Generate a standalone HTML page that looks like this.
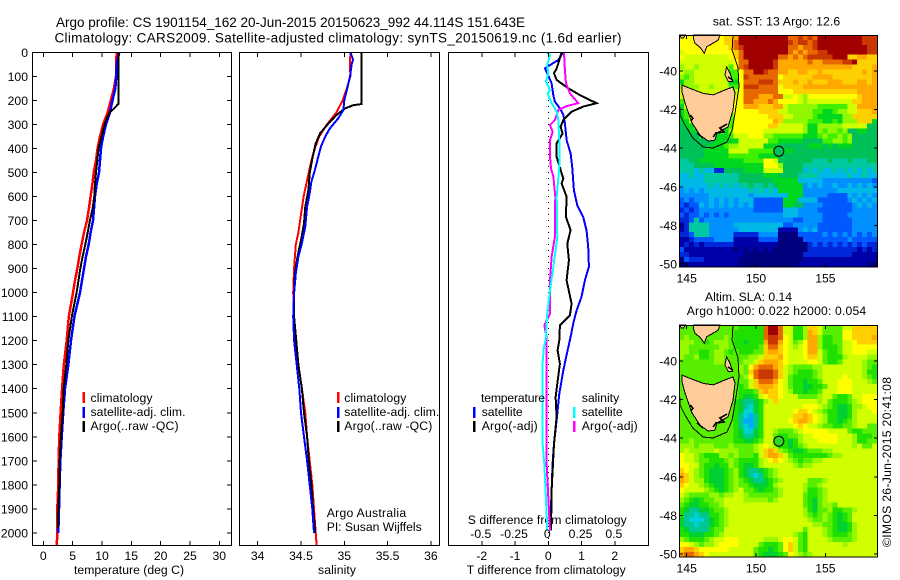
<!DOCTYPE html>
<html lang="en">
<head>
<meta charset="utf-8">
<title>Argo profile chart</title>
<style>
html,body{margin:0;padding:0;background:#fff}
svg{display:block}
text{font-family:"Liberation Sans",sans-serif;font-size:12.2px;fill:#000}
.title{font-size:13.5px}
</style>
</head>
<body>
<svg id="chart" width="900" height="580" viewBox="0 0 900 580" xmlns="http://www.w3.org/2000/svg">
<rect x="0" y="0" width="900" height="580" fill="#fff"/>
<text class="title" x="56" y="27" textLength="469" lengthAdjust="spacing">Argo profile: CS 1901154_162 20-Jun-2015 20150623_992 44.114S 151.643E</text>
<text class="title" x="54.5" y="42.5" textLength="567" lengthAdjust="spacing">Climatology: CARS2009. Satellite-adjusted climatology: synTS_20150619.nc (1.6d earlier)</text>
<text x="74" y="574" textLength="110" lengthAdjust="spacing">temperature (deg C)</text>
<text x="318" y="574" textLength="38" lengthAdjust="spacing">salinity</text>
<text x="466.7" y="574" textLength="159" lengthAdjust="spacing">T difference from climatology</text>
<text x="467.7" y="524" textLength="159" lengthAdjust="spacing">S difference from climatology</text>
<text x="90.5" y="402" textLength="62" lengthAdjust="spacing">climatology</text>
<text x="90.5" y="416" textLength="95" lengthAdjust="spacing">satellite-adj. clim.</text>
<text x="90.5" y="430" textLength="88" lengthAdjust="spacing">Argo(..raw -QC)</text>
<rect x="82.5" y="392" width="2.5" height="11" fill="#f00"/>
<rect x="82.5" y="407" width="2.5" height="11" fill="#00f"/>
<rect x="82.5" y="421" width="2.5" height="11" fill="#000"/>
<text x="344.3" y="402" textLength="62" lengthAdjust="spacing">climatology</text>
<text x="344.3" y="416" textLength="95" lengthAdjust="spacing">satellite-adj. clim.</text>
<text x="344.3" y="430" textLength="88" lengthAdjust="spacing">Argo(..raw -QC)</text>
<rect x="337" y="392" width="2.5" height="11" fill="#f00"/>
<rect x="337" y="407" width="2.5" height="11" fill="#00f"/>
<rect x="337" y="421" width="2.5" height="11" fill="#000"/>
<text x="326.7" y="517" textLength="79.5" lengthAdjust="spacing">Argo Australia</text>
<text x="326.7" y="531" textLength="95" lengthAdjust="spacing">PI: Susan Wijffels</text>
<g id="panelLines"></g>
<g id="panelAxes"></g>
<text x="481" y="402" textLength="64" lengthAdjust="spacing">temperature</text>
<text x="481.7" y="416" textLength="41" lengthAdjust="spacing">satellite</text>
<text x="481.7" y="430" textLength="56" lengthAdjust="spacing">Argo(-adj)</text>
<rect x="473" y="407" width="2.5" height="11" fill="#00f"/>
<rect x="473" y="421" width="2.5" height="11" fill="#000"/>
<text x="581.7" y="402" textLength="37.5" lengthAdjust="spacing">salinity</text>
<text x="581.7" y="416" textLength="41" lengthAdjust="spacing">satellite</text>
<text x="581.7" y="430" textLength="56" lengthAdjust="spacing">Argo(-adj)</text>
<rect x="573" y="407" width="2.5" height="11" fill="#0ff"/>
<rect x="573" y="421" width="2.5" height="11" fill="#f0f"/>
<g id="maps"></g>
<text x="712.7" y="25.5" textLength="127.5" lengthAdjust="spacing">sat. SST: 13 Argo: 12.6</text>
<text x="705" y="301" textLength="87" lengthAdjust="spacing">Altim. SLA: 0.14</text>
<text x="686.7" y="315" textLength="179.5" lengthAdjust="spacing">Argo h1000: 0.022 h2000: 0.054</text>
<text transform="translate(891 547) rotate(-90)" textLength="170" lengthAdjust="spacing">©IMOS 26-Jun-2015 20:41:08</text>
</svg>
<script>
// ---- Axis tick labels ----
const depthTicks = [0,100,200,300,400,500,600,700,800,900,1000,1100,1200,1300,1400,1500,1600,1700,1800,1900,2000];
const tempTicks = [0,5,10,15,20,25,30];
const salTicks = [34,34.5,35,35.5,36];
const tDiffTicks = [-2,-1,0,1,2];
const sDiffTicks = [-0.5,-0.25,0,0.25,0.5];
const lonTicks = [145,150,155];
const latTicks = [-40,-42,-44,-46,-48,-50];

// ---- Temperature profiles ----
const tempClimDepth = [0,50,100,150,200,250,300,350,400,450,500,550,600,650,700,750,800,850,900,950,1000,1100,1200,1300,1400,1500,1600,1700,1800,1900,2000,2050];
const tempClim = [12.5,12.44,12.39,12.05,11.5,10.97,10.2,9.66,9.26,8.98,8.6,8.35,8.07,7.78,7.44,6.93,6.53,6.14,5.8,5.4,5.06,4.35,3.98,3.5,3.2,2.95,2.73,2.6,2.55,2.39,2.39,2.3];
const tempSatDepth = [0,50,100,150,200,250,300,350,400,450,500,550,600,650,700,750,800,850,900,950,1000,1100,1200,1300,1400,1500,1600,1700,1800,1900,2000];
const tempSat = [12.95,12.5,12.44,12.27,11.8,11.36,10.68,10.2,9.83,9.66,9.49,9.09,8.8,8.64,8.47,8.07,7.73,7.27,6.93,6.6,6.25,5.3,4.72,4.26,3.7,3.4,3.13,2.9,2.78,2.67,2.55];
const tempArgoDepth = [0,215,220,230,250,270,300,350,400,450,500,550,600,650,700,750,800,850,900,950,1000,1100,1200,1300,1400,1500,1600,1700,1800,1900,1980];
const tempArgo = [12.78,12.78,12.6,12.2,11.36,10.9,10.45,9.94,9.43,9.2,8.98,8.8,8.7,8.4,7.95,7.56,7.16,6.7,6.3,6.0,5.68,4.85,4.26,3.92,3.47,3.3,3.0,2.8,2.72,2.55,2.5];

// ---- Salinity profiles ----
const salClimDepth = [0,50,100,150,200,250,300,350,400,450,500,550,600,650,700,750,800,850,900,1000,1100,1200,1300,1400,1500,1600,1700,1800,1900,2000,2050];
const salClim = [35.07,35.066,35.07,35.03,34.98,34.91,34.8,34.71,34.66,34.62,34.59,34.56,34.53,34.51,34.49,34.47,34.44,34.43,34.42,34.41,34.42,34.44,34.47,34.51,34.55,34.57,34.6,34.63,34.65,34.67,34.68];
const salSatDepth = [0,30,50,100,150,200,240,275,316,351,393,434,490,538,587,642,725,795,850,920,1003,1100,1200,1300,1400,1500,1600,1700,1800,1900,2000];
const salSat = [35.07,35.1,35.085,35.066,35.035,35.0,34.99,34.93,34.835,34.78,34.73,34.7,34.66,34.62,34.6,34.57,34.55,34.51,34.47,34.44,34.42,34.41,34.42,34.45,34.48,34.5,34.535,34.57,34.6,34.63,34.65];
const salArgoDepth = [0,215,220,233,261,295,337,379,434,503,573,642,712,782,850,920,1003,1100,1300,1400,1500,1600,1700,1800,1900,2000];
const salArgo = [35.2,35.2,35.105,35.01,34.91,34.82,34.72,34.67,34.635,34.6,34.585,34.55,34.535,34.5,34.46,34.43,34.42,34.42,34.47,34.51,34.535,34.57,34.59,34.62,34.64,34.665];

// ---- Difference profiles ----
const dTSatDepth = [0,32,49,67,88,129,178,206,233,261,296,365,421,476,574,636,685,740,810,893,949,1018,1074,1129,1185,1240,1324,1421,1532,1629,1712,1824,1935,1990];
const dTSat = [0.45,0.3,0.1,-0.1,-0.03,0.1,0.15,0.2,0.35,0.45,0.5,0.55,0.67,0.72,0.77,0.87,1.05,1.15,1.2,1.22,1.1,1.0,0.85,0.75,0.67,0.58,0.45,0.33,0.25,0.17,0.13,0.1,0.07,0.05];
const dTArgoDepth = [0,46,67,88,115,150,178,212,226,247,282,310,338,379,435,490,525,546,601,685,740,796,865,949,1046,1094,1136,1199,1240,1296,1379,1435,1518,1629,1824,1990];
const dTArgo = [0.4,0.3,0.25,0.17,0.25,0.6,0.95,1.45,1.05,0.7,0.45,0.37,0.43,0.25,0.25,0.37,0.45,0.4,0.55,0.53,0.67,0.57,0.62,0.55,0.7,0.65,0.35,0.33,0.28,0.35,0.27,0.22,0.25,0.17,0.1,0.08];
const dSArgoDepth = [0,74,129,171,212,224,240,261,282,303,331,365,435,483,518,601,713,768,851,949,1088,1136,1185,1296,1712,1851,1990];
const dSArgo = [0.118,0.125,0.133,0.163,0.225,0.138,0.075,0.063,0.05,0.013,0.033,0.013,0.013,0.02,0.038,0.053,0.05,0.05,0.025,0.013,0.013,-0.03,-0.013,-0.013,-0.013,0,0.013];
const dSSatDepth = [0,11,53,88,122,157,171,212,247,282,365,476,601,768,893,990,1088,1199,1226,1296,1629,1712,1851,1990];
const dSSat = [-0.013,0.013,-0.008,0,-0.018,0.013,-0.005,0.025,0.063,0.075,0.083,0.083,0.063,0.068,0.038,0.013,-0.008,-0.02,-0.033,-0.043,-0.043,-0.03,-0.018,-0.008];

// ---- Map colour levels ----
const sstPalette = ['#00007f','#0000a8','#0028d8','#0058ff','#0090ff','#00b8e8','#00c8a0','#00c058','#00d820','#40f000','#90f800','#d0ff00','#ffff00','#ffd000','#ffa800','#e86800','#c83800','#a00000'];
const slaPalette = ['#00007f','#0000a8','#0028d8','#0058ff','#00a8ff','#00d0d8','#00c890','#00d030','#20e000','#58ee00','#98f800','#d0ff00','#ffff00','#ffd000','#ffa800','#e86800','#c83800','#a00000'];

// ---- SST grid (base-36 colour level per cell) ----
const sstRows = [
"cccccccccddehhhhhhhhhhffgfgfhhhhhhhhhggg",
"cccccccccddfhhhhhhhhhhgfggfghhhhhhhhhggg",
"ccccccccccdfghhhhhhhhhffeffghhhhhhhhhhgg",
"bccccccccccdfhhhhhhhhhfefeffgghhhhhhhhgg",
"cbbbbbbbbbcdfhhhhhhhffefefggggghhhddeedd",
"bbbbbbbbbbbcffhhhhhgeeeeeefeeffffgghdddd",
"abbabbbbbb9cfghhhhhgeeeeeeeeeeeeeeedddde",
"baabbbbbbb99cffhhgffeeddeeddeddddddddede",
"a9abbbbbbb99cgffffffcddddddeeeedddddddde",
"8aabbbbbbb88cfffgggfdddeddedddeeedddeede",
"aaaabbabbb99cgggffffcddddeeeeeeeeeeeeeee",
"bbbbbbbbbbbbcfffffffcccdddddddddddddeeee",
"bbbbbbbbbbbbcfffeeeffbbcbaccccccccccdeee",
"9bbbbbbbbbbccffeeefeccccbabbbbbbbbbddeee",
"8bbbbbbbbbacceeedddeebaaaaaa999999bbeeee",
"89bbbbbbb9acccccddddbbaaaaa99889aabbddde",
"89bbbbbbb99cccccccdddbbaaaa988888aaddddd",
"88bbbbbbb99ccccccccedaaaaa9998898aaaddd8",
"788bbbbbb89cccccccddbbbbba88aaaaabbbbb77",
"77888888b8accccccbbbbbbbba88a9aa9a778877",
"77779988889bbbcccaa9999998889a99a9a77777",
"777777788888bbbbbb9988888777799aa9a77777",
"7777778889aabbbbb88877777788878788877777",
"7777788888bbbb99999988877777777777777777",
"7777788888999999888877777777777777777777",
"6677888888888999" + "9ccb7777777666766676667",
"66677778888888888ccca7777666666666666666",
"66656552277778888bbbb7777565655656565656",
"5565566666667777788877776666555555655655",
"5555566666667777777888885555544444444443",
"5555556565656676676788888454544544545454",
"4545455555555565656588888444444455555555",
"44444455555555455555558884444433335454545",
"3434445454545553333338885555333333454545",
"3233545454545453333338877444433333345454",
"2323444444444443333335554444333333344444",
"3233434343444444444445554444433333444444",
"2236344444444444444444433444433333344444",
"1266664444455555555553344444333333344444",
"1266664444445555555511114545333333344444",
"2236664444422222444400003333343434343434",
"1123333444411111333300000333333333433333",
"1212122222211111111100000023232323232322",
"3111111111101010101000000022222222221212",
"2211111111111000000000000222222222211111",
"0322211111110000000000000111111111111111",
"0011111111110000000000001111111111111100"
];

// ---- Sea level anomaly grid (base-36 colour level per cell) ----
const slaRows = [
"99999999999988888fhhfbb88addb9999bbddddd",
"99999999999888888fhhfbb88aedb9999ccddddd",
"9a9999999a9888888fggfcb88aeea8899ccdddde",
"aaa9989aaa9887888eggecb9aceea8899bbcdddd",
"aa999999aa9888889dffdcbabceea8889bbccccc",
"aa99889aa98988899deedcbbbceeb9889bbcccbb",
"a99a889aa99999aabdddecbbbcddb9888abbbbaa",
"9999999aa9999aabdeeedcbbbbccb9889bbbba99",
"999999999999a9cefffedba9999aabbbbbbbba98",
"999999999999a9dfgggfdba98889abbbbbbbba88",
"9999999999999acfgggfdb988889abbbbcbbba98",
"99999999999999bdfffecb9887889bbbcccbbba9",
"99999999999989bdeeedcb98877889bbcccbbbbb",
"9999999999998889deddcba887889bbbcccbbbbb",
"9999999999998778bcddcbbb9999abb9889bbccc",
"99999999999876678abdbbbbbbbbab98889abccc",
"999999999998765 78bbbbbbbbcccba98778aabcc".replace(' ',''),
"99999999999875578bbbbbbcddcba988778abbbc",
"99999999999865468bbbbbbddedcba88778abbbb",
"99999999999864468bbbbbcdeedcba88789abbbb",
"99999999999865468bbbbbbcdcbba998899abb99",
"99999999999875578bbabababcccccbbbb9889".replace('bbababab','bba999ab'),
"99999999999876678bb98899abbcccccbbba8889",
"99a99999999887789bba8878abbbccccbbba8899",
"aaa9aaa999a9999abcba88789abbbbbbbbbab99b",
"abaaaaabaaaa999abdeda98778999aabbbbbbbbb",
"cbba9888aa9a9998bdeedb988888889aabbbbbbb",
"cbba998889a98888abcdcba9899aabbbbbbbbbbb",
"ccbb988788a98778abbbbbba9aabbbbbbbbbbbbb",
"dcba9877789a8766789abbbbbbbbbbbbbbbbbbbb",
"edba9877789a8765689abbbbbbbbbbbbbbbbbbbb",
"edbaa877789a98766789abbbbb999abbbbbbbbbb",
"dcbba987789a9987778abbbbba99abbbbbbbbbbb",
"cbbbba98789ab9987889abbbba889abbbbbbbbbb",
"ba9999aa9aabba999999abbbb9889abbbbbbbbbb",
"a987899aabbbbaaaaa9abbbbb9879abbbbbbbbbb",
"98778899abbbbbbbbbbbbbbbb9879aa9bbbbbbbb",
"876677899abbbbbbbbbbbbbbba8799a8899abbbb",
"866566889abbbbbbbbbbbbbbba989a98789bbbbb",
"765556789abbbbbbbbbbbbbbbba99a98789bbbbb",
"766566789abbbbbbbbbbbbbbbbbaa998778abbbb",
"876666899bbbbbbbbbbbbbbbb9bbba98778abbbb",
"88777889abbbbbbbbbbbbbba98bbba98889abbbb",
"a98889abbcccbbbbbaaabccb98bbbba9999abbbb",
"ccba9aabccccbbbb98889cdb98bbbbbbbabbbbbb",
"deedccccccbbbbb988789cdb98bbbbbbbbbbbbbb",
"effedcbbbbbbbbb9877789cba9abbbbbbbbbbbbb"
];

// ---- Coastline and isobath (lon/lat) ----
const tasmaniaLon = [144.66,145.24,146.2,146.92,147.76,148.34,148.48,148.34,147.98,147.18,147.04,146.54,145.96,145.38,144.88,144.66];
const tasmaniaLat = [-40.73,-40.9,-41.16,-41.24,-40.98,-40.83,-41.14,-42.02,-42.9,-43.21,-43.58,-43.63,-43.32,-42.69,-41.66,-41.09];
const mainlandLon = [145.48,147.4,147.28,146.8,146.44,146.27,145.96,145.6,145.48];
const mainlandLat = [-38.13,-38.13,-38.39,-38.6,-38.74,-39.08,-38.77,-38.57,-38.31];
const capeLon = [144.5,144.9,144.76,144.6];
const capeLat = [-38.13,-38.13,-38.3,-38.3];
const flindersLon = [147.88,148.13,148.32,148.0,147.76];
const flindersLat = [-39.78,-40.12,-40.55,-40.55,-40.2];
const isobathLon = [148.34,148.27,148.7,148.77,148.48,148.27,147.91,146.9,146.18,145.45,144.88,144.52,144.52];
const isobathLat = [-38.13,-38.91,-39.84,-40.83,-42.18,-43.06,-43.68,-43.99,-43.94,-43.47,-42.8,-42.28,-41.9];
const reefALon = [147.91,147.4,147.69,147.11,146.9];
const reefALat = [-42.75,-42.95,-43.16,-43.21,-43.42];
const reefBLon = [145.24,145.45,145.3];
const reefBLat = [-42.28,-42.44,-42.6];
const reefCLon = [145.74,146.18];
const reefCLat = [-43.21,-43.47];
const reefDLon = [147.98,148.34];
const reefDLat = [-40.31,-40.47];
const argoLon = [151.643];
const argoLat = [-44.114];

// ---- Axis functions ----
const SVGNS = 'http://www.w3.org/2000/svg';
const yD = d => 52.3 + d * 0.2403;
const xT = t => 43.3 + t * 5.867;
const xS = s => 257.7 + (s - 34) * 86.6;
const xdT = t => 548.3 + t * 33.25;
const xdS = s => 548.3 + s * 133;
const lonX = lon => 686.7 + (lon - 145) * 13.87;
const latY = (lat, off) => 71 + (-40 - lat) * 19.3 + off;
const lines = document.getElementById('panelLines');
const axes = document.getElementById('panelAxes');
const maps = document.getElementById('maps');

function mk(tag, attrs, parent) {
  const el = document.createElementNS(SVGNS, tag);
  for (const k in attrs) el.setAttribute(k, attrs[k]);
  parent.appendChild(el);
  return el;
}
function profile(xs, ds, sx, color, w, name) {
  const pts = xs.map((v, i) => sx(v).toFixed(1) + ',' + yD(ds[i]).toFixed(1)).join(' ');
  const el = mk('polyline', {points: pts, fill: 'none', stroke: color, 'stroke-width': w, 'shape-rendering': 'crispEdges'}, lines);
  
  
}
function frame(x, y, w, h, name, parent) {
  const el = mk('rect', {x: x, y: y, width: w, height: h, fill: 'none', stroke: '#000', 'stroke-width': 1, 'shape-rendering': 'crispEdges'}, parent);
  
  
}
function tick(x1, y1, x2, y2, parent) {
  const el = mk('line', {x1: x1, y1: y1, x2: x2, y2: y2, stroke: '#000', 'stroke-width': 1, 'shape-rendering': 'crispEdges'}, parent);
  
  
}
function label(str, x, y, anchor, parent) {
  const el = mk('text', {x: x, y: y, 'text-anchor': anchor}, parent);
  el.textContent = str;
  
  
}

// ---- Profile lines ----
profile(tempClim, tempClimDepth, xT, '#f00', 2.5, 'temperature-climatology-line');
profile(tempSat, tempSatDepth, xT, '#00f', 2.5, 'temperature-satellite-line');
profile(tempArgo, tempArgoDepth, xT, '#000', 2, 'temperature-argo-line');
profile(salClim, salClimDepth, xS, '#f00', 2, 'salinity-climatology-line');
profile(salArgo, salArgoDepth, xS, '#000', 2, 'salinity-argo-line');
profile(salSat, salSatDepth, xS, '#00f', 2, 'salinity-satellite-line');

const zero = mk('line', {x1: xdT(0), y1: 52, x2: xdT(0), y2: 545, stroke: '#000', 'stroke-width': 1, 'stroke-dasharray': '1 5', 'shape-rendering': 'crispEdges'}, lines);


profile(dTSat, dTSatDepth, xdT, '#00f', 2, 't-difference-satellite-line');
profile(dTArgo, dTArgoDepth, xdT, '#000', 2, 't-difference-argo-line');
profile(dSArgo, dSArgoDepth, xdS, '#f0f', 2, 's-difference-argo-line');
profile(dSSat, dSSatDepth, xdS, '#0ff', 2, 's-difference-satellite-line');

// ---- Panel frames and ticks ----
frame(32.5, 52.5, 199, 493, 'temperature-panel-frame', axes);
frame(239.5, 52.5, 200, 493, 'salinity-panel-frame', axes);
frame(448.5, 52.5, 200, 493, 'difference-panel-frame', axes);

depthTicks.forEach(d => {
  const y = yD(d);
  tick(32.5, y, 37, y, axes);
  tick(231.5, y, 227, y, axes);
  label(String(d), 28, y + 4.5, 'end', axes);
});
tempTicks.forEach(t => {
  const x = xT(t);
  tick(x, 52.5, x, 57, axes);
  tick(x, 545.5, x, 541, axes);
  label(String(t), x, 560, 'middle', axes);
});
salTicks.forEach(s => {
  const x = xS(s);
  tick(x, 52.5, x, 57, axes);
  tick(x, 545.5, x, 541, axes);
  label(String(s), x, 560, 'middle', axes);
});
tDiffTicks.forEach(t => {
  const x = xdT(t);
  tick(x, 52.5, x, 57, axes);
  tick(x, 545.5, x, 541, axes);
  label(String(t), x, 560, 'middle', axes);
});
sDiffTicks.forEach(s => {
  label(String(s), xdS(s) - 1, 538, 'middle', axes);
});

// ---- Maps ----
function polyPts(lons, lats, off) {
  return lons.map((v, i) => lonX(v).toFixed(1) + ',' + latY(lats[i], off).toFixed(1)).join(' ');
}
function drawMap(rows, palette, off, markerFill, prefix) {
  const g = mk('g', {}, maps);
  
  
  const left = 679.3, top = 35 + off, cw = 4.94, ch = 4.93;
  rows.forEach((row, r) => {
    for (let c = 0; c < 40; c++) {
      const ch36 = row.charAt(Math.min(c, row.length - 1));
      const cell = mk('rect', {x: (left + c * cw).toFixed(2), y: (top + r * ch).toFixed(2), width: (cw + 0.3).toFixed(2), height: (ch + 0.3).toFixed(2), fill: palette[parseInt(ch36, 36)], 'shape-rendering': 'crispEdges'}, g);
      
      
    }
  });
  const land = [[tasmaniaLon, tasmaniaLat, 'tasmania'], [mainlandLon, mainlandLat, 'mainland'], [capeLon, capeLat, 'cape'], [flindersLon, flindersLat, 'flinders-island']];
  land.forEach(item => {
    const el = mk('polygon', {points: polyPts(item[0], item[1], off), fill: '#ffcc99', stroke: '#000', 'stroke-width': 1, 'shape-rendering': 'crispEdges'}, g);
    
    
  });
  const iso = mk('polyline', {points: polyPts(isobathLon, isobathLat, off), fill: 'none', stroke: '#000', 'stroke-width': 1, 'shape-rendering': 'crispEdges'}, g);
  
  
  [[reefALon, reefALat], [reefBLon, reefBLat], [reefCLon, reefCLat], [reefDLon, reefDLat]].forEach(item => {
    const el = mk('polyline', {points: polyPts(item[0], item[1], off), fill: 'none', stroke: '#000', 'stroke-width': 1.6, 'shape-rendering': 'crispEdges'}, g);
    
    
  });
  const mark = mk('circle', {cx: lonX(argoLon[0]), cy: latY(argoLat[0], off) + 0.8, r: 5, fill: markerFill, stroke: '#000', 'stroke-width': 1}, g);
  
  
  frame(679.5, top + 0.5, 198, 231.5, prefix + '-map-frame', g);
  const bottom = top + 231.9;
  lonTicks.forEach(lon => {
    const x = lonX(lon);
    tick(x, top, x, top + 4, g);
    tick(x, bottom, x, bottom - 4, g);
    label(String(lon), x, off + 282.7, 'middle', g);
  });
  latTicks.forEach(lat => {
    const y = latY(lat, off);
    tick(679.5, y, 683, y, g);
    tick(877.5, y, 874, y, g);
    label(String(lat), 677, y + 4.5, 'end', g);
  });
}
drawMap(sstRows, sstPalette, 0, '#00c058', 'sst');
drawMap(slaRows, slaPalette, 290, '#30d820', 'sla');
</script>
</body>
</html>
